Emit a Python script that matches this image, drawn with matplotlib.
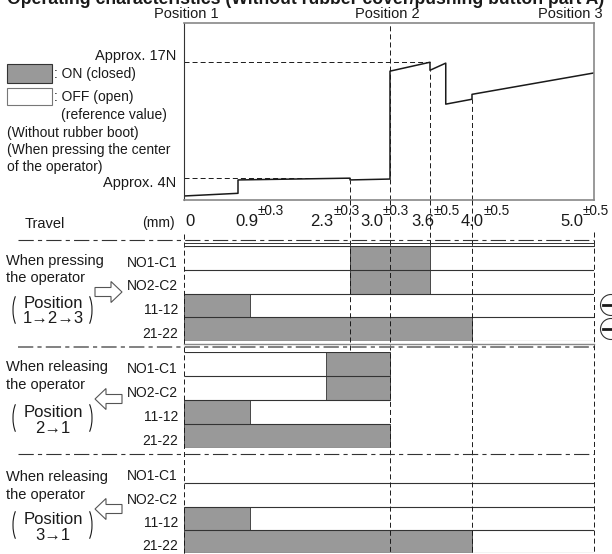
import numpy as np
import matplotlib
matplotlib.use('Agg')
import matplotlib.pyplot as plt
from matplotlib import transforms
from matplotlib.patches import Rectangle, Circle, Arc, Polygon

plt.rcParams['font.family'] = ['Liberation Sans', 'DejaVu Sans']
plt.rcParams['lines.scale_dashes'] = False

# travel marks on the schematic axis (mm)
travel_marks = [0, 0.9, 2.3, 3.0, 3.6, 4.0, 5.0]
travel_text = ['0', '0.9', '2.3', '3.0', '3.6', '4.0', '5.0']
travel_tol = ['', '±0.3', '±0.3', '±0.3', '±0.5', '±0.5', '±0.5']
positions = ['Position 1', 'Position 2', 'Position 3']
position_travel = [0, 3.0, 5.0]

# operating force vs travel (N)
force_travel = [0, 0.9, 0.9, 2.3, 2.3, 3.0, 3.0, 3.6, 3.6, 3.75, 3.75, 4.0, 4.0, 5.0]
force_n = [2.0, 2.3, 3.8, 4.0, 3.8, 3.9, 16.0, 17.0, 16.1, 16.9, 12.3, 12.85, 13.4, 15.8]
force_marks = [17, 4]
force_mark_end = [3.6, 2.3]

# contact ON ranges (mm)
contacts = ['NO1-C1', 'NO2-C2', '11-12', '21-22']
press_on = [2.3, 2.3, 0.0, 0.0]
press_off = [3.6, 3.6, 1.05, 4.0]
rel21_on = [2.0, 2.0, 0.0, 0.0]
rel21_off = [3.0, 3.0, 1.05, 3.0]
rel31_on = [0.0, 0.0, 0.0, 0.0]
rel31_off = [0.0, 0.0, 1.05, 4.0]

W, H = 612, 554
fig = plt.figure(figsize=(W / 100, H / 100), dpi=100)

# schematic (non-linear) travel scale, as drawn in the catalogue
scale_px = np.array([184, 238, 350, 390, 430, 472, 594])
scale_frac = (scale_px - 184) / 410.0


def fwd(x):
    return np.interp(x, travel_marks, scale_frac)


def inv(y):
    return np.interp(y, scale_frac, travel_marks)


def px_rect(l, t, r, b):
    return [l / W, 1 - b / H, (r - l) / W, (b - t) / H]


INK = '#1a1a1a'
GRAY = '#999999'
DASH = (3.6, 2.2)

# ---- force curve ----
ax_f = fig.add_axes(px_rect(184, 23, 594, 200))
ax_f.set_xscale('function', functions=(fwd, inv))
ax_f.set_xlim(0, 5)
ax_f.set_ylim(1.55, 21.4)
ax_f.set_xticks([])
ax_f.set_yticks([])
for s in ax_f.spines.values():
    s.set_color('#888888')
    s.set_linewidth(1.2)
ax_f.spines['left'].set_color('#333333')
ax_f.spines['left'].set_linewidth(0.8)
ax_f.hlines(force_marks, 0, force_mark_end, color=INK, lw=0.7, linestyles=[(0, DASH)])
ft = np.array(force_travel)
fn = np.array(force_n)
for t in [2.3, 3.6, 4.0]:
    ax_f.vlines(t, 1.55, fn[ft == t].min(), color=INK, lw=0.7, linestyles=[(0, DASH)])
ax_f.vlines(3.0, 1.55, 21.4, color=INK, lw=0.7, linestyles=[(0, DASH)])
ax_f.plot(force_travel, force_n, color=INK, lw=1.1)


# ---- contact diagrams ----
def contact_rows(top, bottom, on, off, span, first_line=0):
    ax = fig.add_axes(px_rect(184, top, 594, bottom))
    ax.set_xscale('function', functions=(fwd, inv))
    ax.set_xlim(0, 5)
    ax.set_ylim(4, 0)
    ax.axis('off')
    on = np.array(on)
    width = np.array(off) - on
    idx = np.where(width > 0)[0]
    ax.barh(idx + 0.5, width[idx], left=on[idx], height=1,
            color=GRAY, edgecolor='#333333', lw=0.6)
    ax.hlines(range(first_line, 5), 0, span, color='#333333', lw=0.8)
    for i, name in enumerate(contacts):
        ax.annotate(name, xy=(0, i + 1), xytext=(-6, 3), textcoords='offset pixels',
                    ha='right', va='baseline', fontsize=10, color=INK,
                    annotation_clip=False)
    return ax


contact_rows(246, 341, press_on, press_off, 5.0)
contact_rows(352, 448, rel21_on, rel21_off, 3.0)
contact_rows(460, 553, rel31_on, rel31_off, 5.0, first_line=1)

# ---- overlay in pixel coordinates ----
ov = fig.add_axes([0, 0, 1, 1])
ov.set_xlim(0, W)
ov.set_ylim(H, 0)
ov.axis('off')
bt = transforms.blended_transform_factory(ax_f.transData, ov.transData)

# guide lines below the force curve
for t, y0, y1 in [(0, 234, 554), (2.3, 200, 352), (3.0, 200, 554),
                  (3.6, 200, 246), (4.0, 200, 554), (5.0, 232, 554)]:
    ov.plot([t, t], [y0, y1], transform=bt, color=INK, lw=0.7, ls=(0, DASH))

# separators
for y, c, lw in [(240, '#333333', 0.8), (347, '#777777', 1.3), (454, '#333333', 0.8)]:
    ov.plot([18, 594], [y, y], color=c, lw=lw, ls=(0, (11, 3, 3, 3)))
ov.plot([184, 594], [243, 243], color='#333333', lw=0.7)
ov.plot([184, 184], [243, 246], color='#333333', lw=0.7)
ov.plot([594, 594], [243, 246], color='#333333', lw=0.7)
ov.plot([184, 594], [343.5, 343.5], color='#888888', lw=1.0)

# title and position labels
ov.text(7, 4, 'Operating characteristics (Without rubber cover/pushing button part A)',
        fontsize=12.7, fontweight='bold', va='baseline', color=INK)
for name, t, dx in zip(positions, position_travel, [2, -3, -24]):
    ov.annotate(name, xy=(t, 18), xycoords=bt, xytext=(dx, 0), textcoords='offset pixels',
                ha='center', va='baseline', fontsize=10.5, color=INK)

# force labels and legend
ov.text(176, 60, 'Approx. 17N', ha='right', va='baseline', fontsize=10.5, color=INK)
ov.text(176, 187, 'Approx. 4N', ha='right', va='baseline', fontsize=10.5, color=INK)
ov.add_patch(Rectangle((7, 64), 45, 19, fc=GRAY, ec='#333333', lw=0.8))
ov.add_patch(Rectangle((7, 88), 45, 17, fc='white', ec='#777777', lw=0.8))
ov.text(54, 78, ': ON (closed)', va='baseline', fontsize=10, color=INK)
ov.text(54, 101, ': OFF (open)', va='baseline', fontsize=10, color=INK)
ov.text(61, 119, '(reference value)', va='baseline', fontsize=10, color=INK)
ov.text(7, 137, '(Without rubber boot)', va='baseline', fontsize=10, color=INK)
ov.text(7, 154, '(When pressing the center', va='baseline', fontsize=10, color=INK)
ov.text(7, 171, 'of the operator)', va='baseline', fontsize=10, color=INK)

# travel axis labels
ov.text(25, 228, 'Travel', va='baseline', fontsize=10.5, color=INK)
ov.text(175, 227, '(mm)', ha='right', va='baseline', fontsize=10, color=INK)
tick_dx = [1, -3, -40, -30, -19, -11, -34]
mains = []
for t, txt, dx in zip(travel_marks, travel_text, tick_dx):
    mains.append(ov.annotate(txt, xy=(t, 226), xycoords=bt, xytext=(dx, 0),
                             textcoords='offset pixels', ha='left', va='baseline',
                             fontsize=12, color=INK))
fig.canvas.draw()
rend = fig.canvas.get_renderer()
for m, tol in zip(mains, travel_tol):
    if tol:
        bb = m.get_window_extent(rend)
        ov.annotate(tol, xy=(bb.x1, H - 215), xycoords='figure pixels',
                    ha='left', va='baseline', fontsize=9.8, color=INK)

# group captions
groups = [
    ('When pressing', 265, 282, '1→2→3', 308, 323, 310, 292, 1),
    ('When releasing', 371, 389, '2→1', 417, 433, 418, 399, -1),
    ('When releasing', 481, 499, '3→1', 524, 540, 525, 509, -1),
]
for head, y1, y2, seq, y3, y4, cy, ay, d in groups:
    ov.text(6, y1, head, va='baseline', fontsize=10.5, color=INK)
    ov.text(6, y2, 'the operator', va='baseline', fontsize=10.5, color=INK)
    ov.text(53, y3, 'Position', ha='center', va='baseline', fontsize=12, color=INK)
    ov.text(53, y4, seq, ha='center', va='baseline', fontsize=12, color=INK)
    ov.add_patch(Arc((21, cy), 16, 38, theta1=112, theta2=248, color=INK, lw=0.8))
    ov.add_patch(Arc((84, cy), 16, 38, theta1=-68, theta2=68, color=INK, lw=0.8))
    if d > 0:
        x0, xh, x1 = 95, 111, 122
    else:
        x0, xh, x1 = 122, 106, 95
    pts = [(x0, ay - 4.5), (xh, ay - 4.5), (xh, ay - 10.5), (x1, ay),
           (xh, ay + 10.5), (xh, ay + 4.5), (x0, ay + 4.5)]
    ov.add_patch(Polygon(pts, closed=True, fc='white', ec='#555555', lw=0.8))

# direct opening marks
for cy in [305, 329]:
    ov.add_patch(Circle((611, cy), 10.5, fill=False, ec='#333333', lw=0.8))
    ov.plot([603, 612], [cy, cy], color=INK, lw=2.0)

fig.savefig('out.png', dpi=100)
